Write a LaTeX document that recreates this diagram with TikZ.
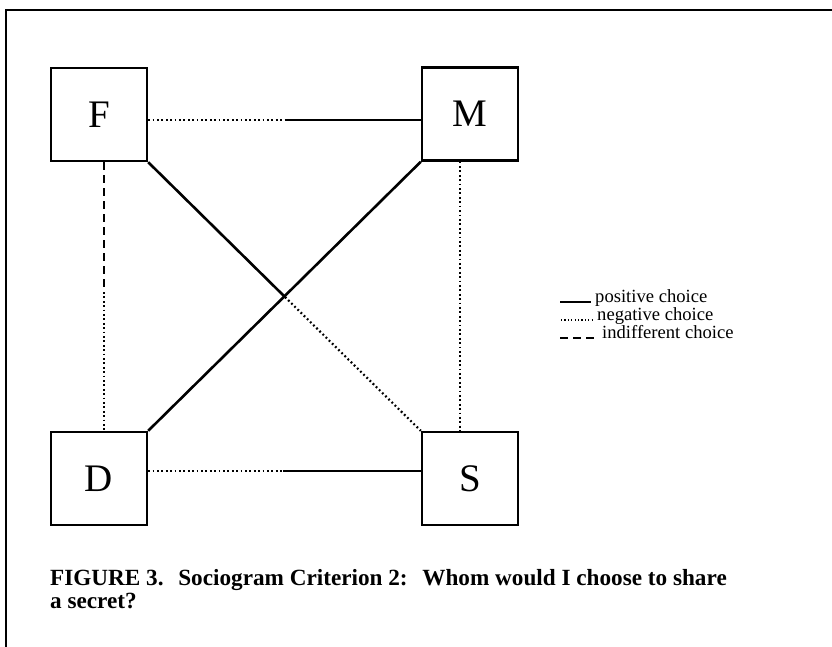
\documentclass[tikz,border=0pt]{standalone}
\usepackage{fontspec}
\setmainfont{Liberation Serif}
\begin{document}
\begin{tikzpicture}[x=1pt,y=-1pt,
  person/.style={draw,line width=2.4pt,rectangle,minimum width=96pt,minimum height=93pt,inner sep=0pt,font=\fontsize{39}{39}\selectfont},
  posline/.style={line width=2.6pt},
  negline/.style={line width=2.2pt,dash pattern=on 1.8pt off 2.6pt},
  indline/.style={line width=2.8pt,dash pattern=on 8pt off 5pt},
  legtext/.style={anchor=base west,inner sep=0pt,font=\fontsize{18.6}{18.6}\selectfont},
  captext/.style={anchor=base west,inner sep=0pt,font=\bfseries\fontsize{23.2}{23.2}\selectfont}]
\useasboundingbox (0,0) rectangle (832,647);
% frame
\draw[line width=2.6pt] (6,647) -- (6,10) -- (832,10);
% persons
\node[person] (F) at (99,114.5) {F};
\node[person] (M) at (470,114) {M};
\node[person] (D) at (99,478.5) {D};
\node[person] (S) at (470,478.5) {S};
% split points
\coordinate (fm) at (285,120);
\coordinate (ds) at (283,471);
\coordinate (fd) at (104,292);
\coordinate (ms) at (460,300);
\coordinate (x) at (285,297);
% F - M
\draw[negline] (F.east |- fm) -- (fm);
\draw[posline] (fm) -- (M.west |- fm);
% D - S
\draw[negline] (D.east |- ds) -- (ds);
\draw[posline] (ds) -- (S.west |- ds);
% F - D
\draw[indline] (F.south -| fd) -- (fd);
\draw[negline] (fd) -- (D.north -| fd);
% M - S
\draw[negline] (M.south -| ms) -- (S.north -| ms);
% diagonals
\draw[posline] (M.south west) -- (D.north east);
\draw[posline] (F.south east) -- (x);
\draw[negline] (x) -- (S.north west);
% legend
\coordinate (l1a) at (560,302); \coordinate (l1b) at (591,302);
\coordinate (l2a) at (561,320); \coordinate (l2b) at (593,320);
\coordinate (l3a) at (560,338); \coordinate (l3b) at (598,338);
\draw[line width=1.8pt] (l1a) -- (l1b);
\draw[line width=1.6pt,dash pattern=on 1.2pt off 2.2pt] (l2a) -- (l2b);
\draw[line width=2.6pt,dash pattern=on 8pt off 5pt] (l3a) -- (l3b);
\node[legtext] (t1) at (595,302) {positive choice};
\node[legtext] (t2) at (597,320) {negative choice};
\node[legtext] (t3) at (602,338) {indifferent choice};
% caption
\node[captext] (c1) at (50,585) {FIGURE 3.\hspace{0.3em} Sociogram Criterion 2:\hspace{0.3em} Whom would I choose to share};
\node[captext] (c2) at (50,608) {a secret?};
\end{tikzpicture}
\end{document}
